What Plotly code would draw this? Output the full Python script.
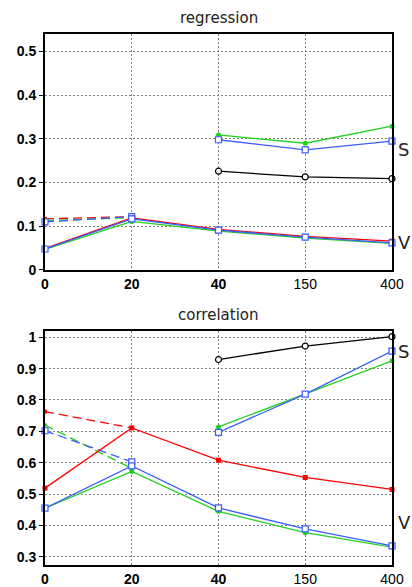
import plotly.graph_objects as go
from plotly.subplots import make_subplots

x_cats = ["0", "20", "40", "150", "400"]
x_tick_text = ["<b>0</b>", "<b>20</b>", "<b>40</b>", "150", "400"]
x_s = ["40", "150", "400"]
x_dash = ["0", "20"]

# regression panel
reg_S_black = [0.226, 0.213, 0.209]
reg_S_green = [0.309, 0.290, 0.329]
reg_S_blue = [0.298, 0.275, 0.295]
reg_V_red = [0.049, 0.119, 0.093, 0.077, 0.066]
reg_V_green = [0.047, 0.111, 0.089, 0.073, 0.061]
reg_V_blue = [0.048, 0.117, 0.091, 0.075, 0.062]
reg_D_red = [0.117, 0.122]
reg_D_green = [0.113, 0.120]
reg_D_blue = [0.110, 0.122]

# correlation panel
cor_S_black = [0.929, 0.972, 1.002]
cor_S_green = [0.714, 0.820, 0.925]
cor_S_blue = [0.697, 0.819, 0.956]
cor_V_red = [0.519, 0.711, 0.608, 0.553, 0.515]
cor_V_green = [0.455, 0.572, 0.445, 0.377, 0.331]
cor_V_blue = [0.455, 0.590, 0.456, 0.389, 0.335]
cor_D_red = [0.763, 0.711]
cor_D_green = [0.720, 0.582]
cor_D_blue = [0.702, 0.603]

RED = "#ff0000"
GREEN = "#1fd11f"
BLUE = "#3b5cff"
BLACK = "#000000"

fig = make_subplots(rows=2, cols=1, vertical_spacing=0.115)

def add(xs, ys, color, symbol, size, dash, row, hollow=False):
    fig.add_trace(go.Scatter(
        x=xs, y=ys, mode="lines+markers",
        line=dict(color=color, width=1.3, dash=dash),
        marker=dict(color="white" if hollow else color,
                    symbol=symbol, size=size,
                    line=dict(color=color, width=1.2 if hollow else 0)),
        cliponaxis=False, showlegend=False, hoverinfo="skip"), row=row, col=1)

for row, (sb, sg, sbl, vr, vg, vb, dr, dg, db) in enumerate([
        (reg_S_black, reg_S_green, reg_S_blue, reg_V_red, reg_V_green, reg_V_blue,
         reg_D_red, reg_D_green, reg_D_blue),
        (cor_S_black, cor_S_green, cor_S_blue, cor_V_red, cor_V_green, cor_V_blue,
         cor_D_red, cor_D_green, cor_D_blue)], start=1):
    dash = "9px,5px"
    add(x_dash, dr, RED, "square", 4, dash, row)
    add(x_dash, dg, GREEN, "circle", 4, dash, row)
    add(x_dash, db, BLUE, "square", 6, dash, row, hollow=True)
    add(x_cats, vr, RED, "square", 5, "solid", row)
    add(x_cats, vg, GREEN, "circle", 5, "solid", row)
    add(x_cats, vb, BLUE, "square", 6, "solid", row, hollow=True)
    add(x_s, sb, BLACK, "circle", 6, "solid", row, hollow=True)
    add(x_s, sg, GREEN, "circle", 5, "solid", row)
    add(x_s, sbl, BLUE, "square", 6, "solid", row, hollow=True)

axis_common = dict(showline=True, linecolor="black", linewidth=2, mirror=True,
                   showgrid=True, gridcolor="#808080", griddash="2px,2px", gridwidth=1,
                   zeroline=False, automargin=False,
                   tickfont=dict(family="Liberation Sans, Arial", size=14, color="black"))

for r in (1, 2):
    fig.update_xaxes(type="category", categoryorder="array", categoryarray=x_cats,
                     range=[0, 4], tickvals=x_cats, ticktext=x_tick_text, ticks="",
                     row=r, col=1, **axis_common)

fig.update_yaxes(range=[0, 0.54], tickvals=[0, 0.1, 0.2, 0.3, 0.4, 0.5],
                 ticktext=["<b>0</b>", "<b>0.1</b>", "<b>0.2</b>", "<b>0.3</b>", "<b>0.4</b>", "<b>0.5</b>"],
                 ticks="outside", ticklen=4, tickcolor="black", tickwidth=1,
                 row=1, col=1, **axis_common)
fig.update_yaxes(range=[0.274, 1.02], tickvals=[0.3, 0.4, 0.5, 0.6, 0.7, 0.8, 0.9, 1.0],
                 ticktext=["<b>0.3</b>", "<b>0.4</b>", "<b>0.5</b>", "<b>0.6</b>", "<b>0.7</b>",
                           "<b>0.8</b>", "<b>0.9</b>", "<b>1</b>"],
                 ticks="outside", ticklen=4, tickcolor="black", tickwidth=1,
                 row=2, col=1, **axis_common)

fig.update_layout(
    width=412, height=587,
    margin=dict(l=45, r=20, t=34, b=22),
    paper_bgcolor="white", plot_bgcolor="white",
    font=dict(family="DejaVu Sans", color="black"),
)
fig.update_layout(yaxis=dict(domain=[0.5556, 1.0]), yaxis2=dict(domain=[0.0, 0.4407]))

title_font = dict(family="DejaVu Sans", size=15, color="#222222")
fig.add_annotation(text="regression", xref="paper", yref="paper", x=0.5, y=1.0,
                   yshift=16, showarrow=False, font=title_font, yanchor="middle")
fig.add_annotation(text="correlation", xref="paper", yref="paper", x=0.5, y=0.4407,
                   yshift=16, showarrow=False, font=title_font, yanchor="middle")

lab_font = dict(family="DejaVu Sans", size=18, color="#222222")
for txt, yref, yv in [("S", "y", 0.275), ("V", "y", 0.063), ("S", "y2", 0.955), ("V", "y2", 0.41)]:
    fig.add_annotation(text=txt, xref="paper", yref=yref, x=1.0, y=yv, xshift=4,
                       xanchor="left", showarrow=False, font=lab_font)

fig.write_html("out.html", config={"displayModeBar": False},
               post_script="document.body.style.margin='0';")
